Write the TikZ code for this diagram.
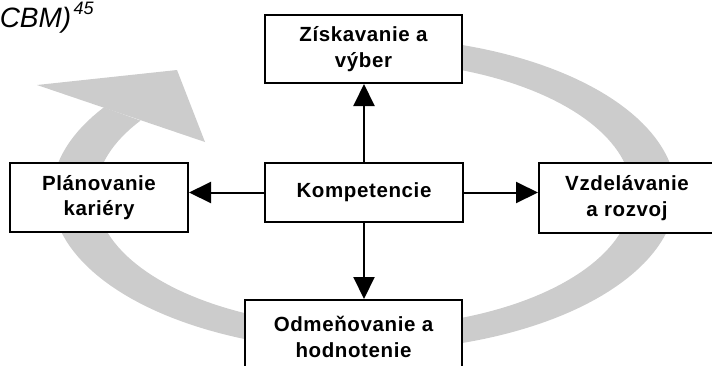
\documentclass[tikz,border=0pt]{standalone}
\usepackage{fontspec}
\setmainfont{Liberation Sans}
\newfontfamily\boxfont{Liberation Sans}[LetterSpace=3]
\usetikzlibrary{arrows.meta}
\definecolor{ringgray}{RGB}{204,204,204}
\begin{document}
\begin{tikzpicture}[x=1pt,y=-1pt,
  stage/.style={draw=black, line width=2pt, fill=white, align=center, inner sep=0pt,
    font=\boxfont\bfseries\fontsize{20.5}{25.5}\selectfont},
  link/.style={line width=2pt, -{Triangle[length=22pt,width=21pt]}}]
\useasboundingbox (0,0) rectangle (712,365);

% caption tail
\node[anchor=base east, inner sep=0pt, font=\itshape\fontsize{28}{32}\selectfont] (caption) at (71.5,27) {CBM)};
\node[anchor=base west, inner sep=0pt, font=\itshape\fontsize{18}{20}\selectfont] (note) at ([xshift=2pt,yshift=13pt]caption.base east) {45};

% grey cycle band (clockwise, from the top round to the upper left)
\fill[ringgray]
  plot[domain=0:303.5, samples=150] ({364+312*cos(90-\x)},{194-157*sin(90-\x)})
  -- plot[domain=0:303.5, samples=150] ({364+268*cos(-213.5+\x)},{194-133*sin(-213.5+\x)})
  -- cycle;
\fill[ringgray] (37,85) -- (177,70) -- (205,142) -- cycle;

% stages
\node[stage, minimum width=197pt, minimum height=68pt] (recruit) at (363.5,49) {Získavanie a\\výber};
\node[stage, minimum width=198pt, minimum height=59pt] (core) at (364,192.5) {Kompetencie};
\node[stage, minimum width=178pt, minimum height=69pt] (career) at (99,197.5) {Plánovanie\\kariéry};
\node[stage, minimum width=176pt, minimum height=70pt] (train) at (627,198) {Vzdelávanie\\a rozvoj};
\node[stage, minimum width=217pt, minimum height=74pt] (reward) at (353.5,337) {Odmeňovanie a\\hodnotenie};

% links from the core
\draw[link] (core.north) -- (core.north |- recruit.south);
\draw[link] (core.south) -- (core.south |- reward.north);
\draw[link] (core.west) -- (core.west -| career.east);
\draw[link] (core.east) -- (core.east -| train.west);
\end{tikzpicture}
\end{document}
